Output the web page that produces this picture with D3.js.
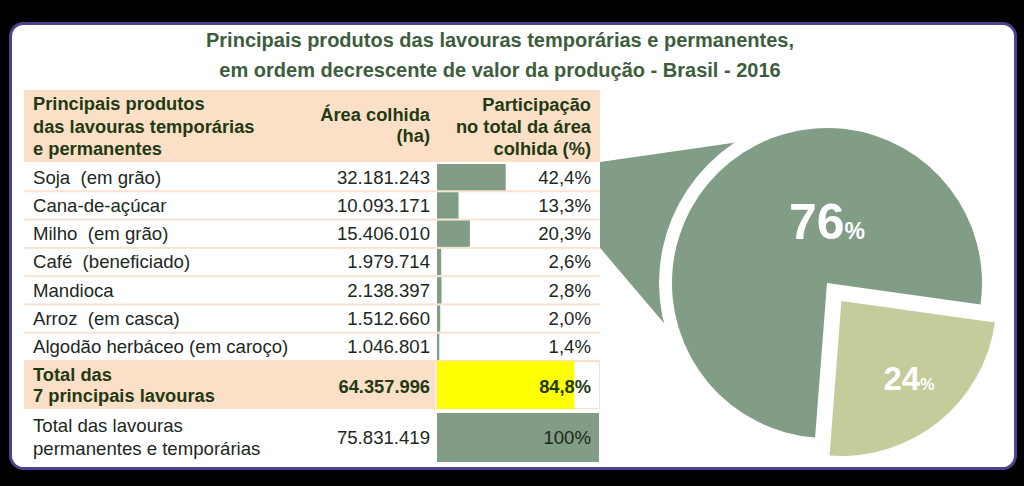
<!DOCTYPE html>
<html>
<head>
<meta charset="utf-8">
<script src="https://cdn.jsdelivr.net/npm/d3@7"></script>
<style>
  html, body { margin: 0; padding: 0; background: #000; }
  svg { display: block; font-family: "Liberation Sans", Arial, sans-serif; }
  svg text { white-space: pre; }
</style>
</head>
<body>
<div class="chart"></div>
<script>
var titleLines = ["Principais produtos das lavouras temporárias e permanentes,",
                  "em ordem decrescente de valor da produção - Brasil - 2016"];
var headProduct = ["Principais produtos", "das lavouras temporárias", "e permanentes"];
var headArea = ["Área colhida", "(ha)"];
var headShare = ["Participação", "no total da área", "colhida (%)"];

var products = ["Soja  (em grão)", "Cana-de-açúcar", "Milho  (em grão)", "Café  (beneficiado)",
                "Mandioca", "Arroz  (em casca)", "Algodão herbáceo (em caroço)"];
var areas = ["32.181.243", "10.093.171", "15.406.010", "1.979.714", "2.138.397", "1.512.660", "1.046.801"];
var shares = [42.4, 13.3, 20.3, 2.6, 2.8, 2.0, 1.4];

var totalTopLabel = ["Total das", "7 principais lavouras"];
var totalTopArea = "64.357.996";
var totalTopShare = 84.8;
var totalAllLabel = ["Total das lavouras", "permanentes e temporárias"];
var totalAllArea = "75.831.419";
var totalAllShare = 100;

var pieLabels = ["Demais", "7 principais"];
var pieValues = [24, 76];

var W = 1024, H = 486;
var green = "#819d86", pale = "#c6cb9c", peach = "#fbdfc7", dark = "#1f3a14", textCol = "#1c281c";
var fs = "18.6px", fsb = "18.3px";

var svg = d3.select(".chart").append("svg").attr("width", W).attr("height", H);
svg.append("rect").attr("width", W).attr("height", H).attr("fill", "#000");

// frame
svg.append("rect")
    .attr("x", 10.5).attr("y", 23.5).attr("width", 1005).attr("height", 445)
    .attr("rx", 13).attr("ry", 13)
    .attr("fill", "#fff").attr("stroke", "#4f418f").attr("stroke-width", 3);

svg.append("g").selectAll("text")
    .data(titleLines).enter().append("text")
    .attr("x", 500).attr("y", function(d, i) { return 47 + i * 30; })
    .attr("text-anchor", "middle")
    .style("font-size", "20px").style("font-weight", "bold").style("fill", "#3d5e3c")
    .text(function(d) { return d; });

// table geometry
var tLeft = 24, tRight = 600, colAreaRight = 430, barLeft = 437, shareRight = 591;
var x = d3.scaleLinear().domain([0, 100]).range([barLeft, tRight - 1]);
var y = d3.scaleBand().domain(d3.range(products.length)).range([163, 361]);

var table = svg.append("g").classed("table", true);

// header
table.append("rect").attr("x", tLeft).attr("y", 90).attr("width", tRight - tLeft).attr("height", 72).attr("fill", peach);

function lines(g, arr, xx, y0, dy, anchor, size, weight, col) {
    g.append("g").selectAll("text").data(arr).enter().append("text")
        .attr("x", xx).attr("y", function(d, i) { return y0 + i * dy; })
        .attr("text-anchor", anchor)
        .style("font-size", size).style("font-weight", weight).style("fill", col)
        .text(function(d) { return d; });
}
lines(table, headProduct, 33, 110, 22.5, "start", fsb, "bold", dark);
lines(table, headArea, colAreaRight, 121, 20.5, "end", fsb, "bold", dark);
lines(table, headShare, shareRight, 111, 22, "end", fsb, "bold", dark);

// body rows
var rows = table.append("g").selectAll("g").data(products).enter().append("g")
    .attr("transform", function(d, i) { return "translate(0," + y(i) + ")"; });

rows.append("rect")
    .attr("x", tLeft).attr("y", y.bandwidth() - 1).attr("width", tRight - tLeft).attr("height", 2)
    .attr("fill", "#f8e3d2");
rows.append("rect")
    .attr("x", barLeft).attr("y", 1)
    .attr("width", function(d, i) { return x(shares[i]) - x(0); })
    .attr("height", y.bandwidth() - 2)
    .attr("fill", green);
rows.append("text").attr("x", 33).attr("y", 20.5)
    .style("font-size", fs).style("fill", textCol).text(function(d) { return d; });
rows.append("text").attr("x", colAreaRight).attr("y", 20.5).attr("text-anchor", "end")
    .style("font-size", fs).style("fill", textCol).text(function(d, i) { return areas[i]; });
rows.append("text").attr("x", shareRight).attr("y", 20.5).attr("text-anchor", "end")
    .style("font-size", fs).style("fill", textCol)
    .text(function(d, i) { return d3.format(".1f")(shares[i]).replace(".", ",") + "%"; });

// total of 7 main crops
table.append("rect").attr("x", tLeft).attr("y", 361).attr("width", barLeft - tLeft - 2).attr("height", 48).attr("fill", peach);
table.append("rect").attr("x", barLeft - 0.5).attr("y", 361.5).attr("width", tRight - barLeft).attr("height", 47)
    .attr("fill", "#fff").attr("stroke", "#f8e0cc");
table.append("rect").attr("x", barLeft).attr("y", 361).attr("width", x(totalTopShare) - x(0)).attr("height", 48)
    .attr("fill", "#ffff00");
lines(table, totalTopLabel, 33, 381, 21, "start", fsb, "bold", dark);
lines(table, [totalTopArea], colAreaRight, 393, 0, "end", fsb, "bold", dark);
lines(table, [d3.format(".1f")(totalTopShare).replace(".", ",") + "%"], shareRight, 393, 0, "end", fsb, "bold", dark);

// total of all crops
table.append("rect").attr("x", barLeft).attr("y", 413).attr("width", x(totalAllShare) - x(0)).attr("height", 49)
    .attr("fill", green);
lines(table, totalAllLabel, 33, 432, 23, "start", fs, "normal", textCol);
lines(table, [totalAllArea], colAreaRight, 444, 0, "end", fs, "normal", textCol);
lines(table, [totalAllShare + "%"], shareRight, 444, 0, "end", fs, "normal", textCol);

// pie
var cx = 827, cy = 283, r = 155, gap = 13;
var pie = d3.pie().sort(null).startAngle(98 * Math.PI / 180).endAngle(98 * Math.PI / 180 + 2 * Math.PI);
var arcs = pie(pieValues);
var arc = d3.arc().innerRadius(0).outerRadius(r);

// connector from the table's first rows to the big slice
var topY = y(0) - 1, botY = y(3);
svg.append("polygon")
    .attr("points", [[tRight, topY], [cx - 67, cy - 144], [cx, cy], [cx - 147, cy + 59], [tRight, botY]].join(" "))
    .attr("fill", green);
svg.append("circle").attr("cx", cx).attr("cy", cy).attr("r", r + gap).attr("fill", "#fff");

var pg = svg.append("g").attr("transform", "translate(" + cx + "," + cy + ")");
pg.selectAll("path").data(arcs).enter().append("path")
    .attr("d", arc)
    .attr("fill", function(d, i) { return i === 0 ? pale : green; })
    .attr("transform", function(d, i) {
        if (i !== 0) return null;
        var a = (d.startAngle + d.endAngle) / 2;
        return "translate(" + (23 * Math.sin(a)) + "," + (-23 * Math.cos(a)) + ")";
    });

var big = pg.append("text").attr("x", 0).attr("y", -44).attr("text-anchor", "middle")
    .style("fill", "#fff").style("font-weight", "bold");
big.append("tspan").style("font-size", "50px").text(pieValues[1]);
big.append("tspan").style("font-size", "23px").text("%");

var small = pg.append("text").attr("x", 82).attr("y", 107).attr("text-anchor", "middle")
    .style("fill", "#fff").style("font-weight", "bold");
small.append("tspan").style("font-size", "33px").text(pieValues[0]);
small.append("tspan").style("font-size", "16px").text("%");
</script>
</body>
</html>
